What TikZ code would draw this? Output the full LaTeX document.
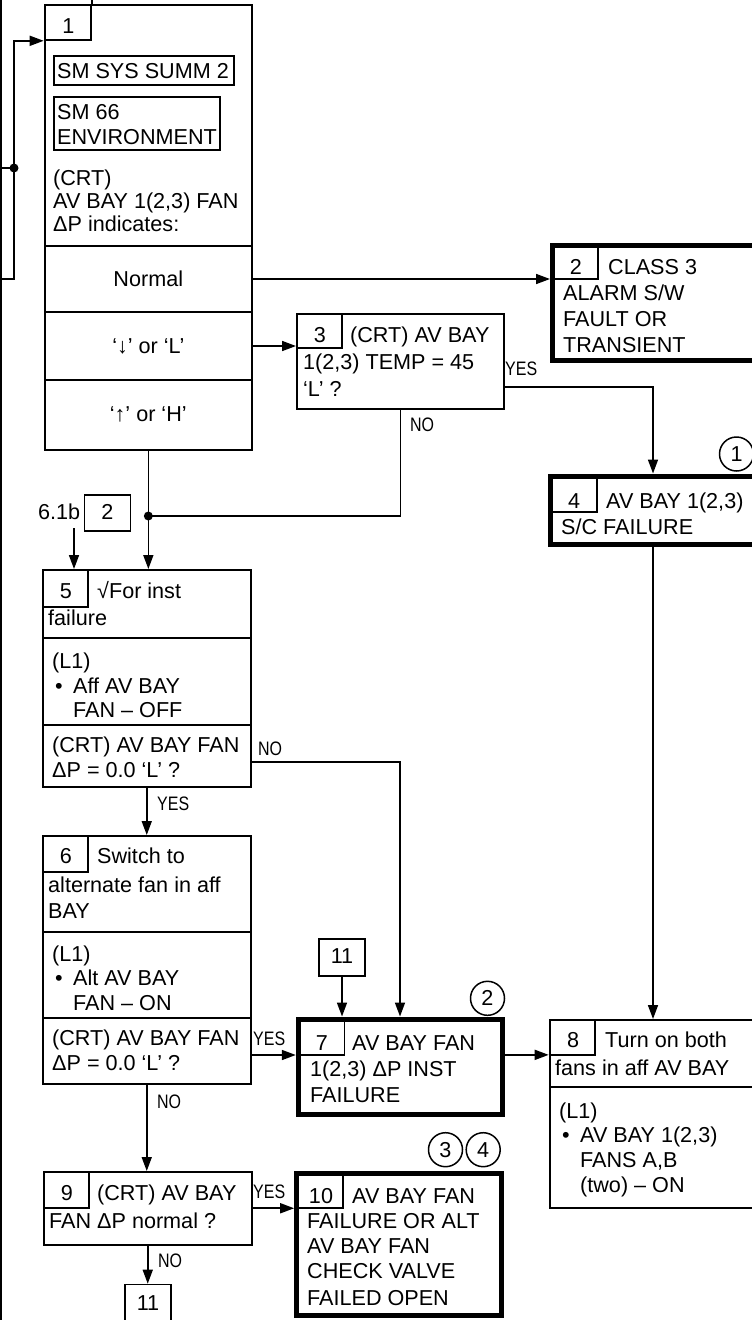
\documentclass[tikz,border=0pt]{standalone}
\usepackage{fontspec}
\setmainfont{Liberation Sans}
\newfontfamily\narrowfont[FakeStretch=0.82]{Liberation Sans}
\usetikzlibrary{arrows.meta}
\newcommand\bx[6]{\node[#2, minimum width={(#5)-(#3)}, minimum height={(#6)-(#4)}] (#1) at ({((#3)+(#5))/2},{((#4)+(#6))/2}) {};}
\newcommand\tx[4]{\node[txt] (#1) at (#2,#3) {#4};}
\newcommand\nm[4]{\node[ctxt] (#1) at (#2,#3) {#4};}
\begin{document}
\begin{tikzpicture}[x=1pt,y=-1pt,
 font=\fontsize{21.6}{25}\selectfont,
 thinbox/.style={draw, line width=2pt, inner sep=0pt},
 thickbox/.style={draw, line width=5pt, inner sep=0pt},
 tabbox/.style={draw, line width=1.6pt, inner sep=0pt},
 txt/.style={anchor=base west, inner sep=0pt},
 ctxt/.style={anchor=base, inner sep=0pt},
 lbl/.style={anchor=base west, inner sep=0pt, font=\narrowfont\fontsize{19.5}{22}\selectfont},
 ln/.style={line width=1.6pt},
 conn/.style={line width=1.6pt, -{Triangle[length=14pt,width=10pt]}},
 dot/.style={circle, fill, inner sep=0pt, minimum size=9pt},
 ring/.style={circle, draw, line width=1.5pt, inner sep=0pt, minimum size=34pt},
]
\fill[white] (0,0) rectangle (752,1320);
\useasboundingbox (0,0) rectangle (752,1320);

% ---------- box 1
\bx{b1}{thinbox}{44.7}{5.3}{252}{450}
\bx{rN}{thinbox}{44.7}{246}{252}{312}
\bx{rL}{thinbox}{44.7}{312}{252}{380}
\bx{rH}{thinbox}{44.7}{380}{252}{450}
\bx{t1}{tabbox}{44.7}{5.3}{91}{40}
\draw[ln] (t1.north east) -- (t1.north east |- 0,0);
\nm{n1}{68.5}{33}{1}
\bx{s1}{thinbox}{54}{56}{234}{85}
\bx{s2}{thinbox}{54}{97}{220}{150}
\tx{a1}{57}{78}{SM SYS SUMM 2}
\tx{a2}{57}{119.5}{SM 66}
\tx{a3}{57}{144}{ENVIRONMENT}
\tx{a4}{53}{185}{(CRT)}
\tx{a5}{53}{208}{AV BAY 1(2,3) FAN}
\tx{a6}{53}{231}{ΔP indicates:}
\nm{a7}{148.3}{286}{Normal}
\nm{a8}{148.3}{353}{‘↓’ or ‘L’}
\nm{a9}{148.3}{421}{‘↑’ or ‘H’}

% ---------- left loop
\coordinate (top) at (1,0);
\coordinate (bot) at (1,1320);
\coordinate (e1) at (1,168);
\coordinate (e2) at (1,279);
\coordinate (k2) at (14,279);
\node[dot] (j1) at (14,168) {};
\draw[ln] (top) -- (bot);
\draw[ln] (e1) -- (j1.center);
\draw[conn] (e2) -- (k2) |- (b1.west |- t1.south);

% ---------- box 2
\bx{b2}{thickbox}{552.5}{245}{775}{360.5}
\bx{t2}{tabbox}{552.5}{245}{598}{279}
\nm{n2}{576}{274}{2}
\tx{b2a}{608}{274}{CLASS 3}
\tx{b2b}{563}{300}{ALARM S/W}
\tx{b2c}{563}{326}{FAULT OR}
\tx{b2d}{563}{352}{TRANSIENT}

% ---------- box 3
\bx{b3}{thinbox}{297}{314}{504}{408.5}
\bx{t3}{tabbox}{297}{314}{342}{348}
\nm{n3}{320}{342}{3}
\tx{b3a}{350}{342}{(CRT) AV BAY}
\tx{b3b}{303}{369}{1(2,3) TEMP = 45}
\tx{b3c}{303}{396}{‘L’ ?}

% ---------- box 4
\bx{b4}{thickbox}{550}{476}{775}{544}
\bx{t4}{tabbox}{550}{476}{597}{512}
\nm{n4}{574}{508}{4}
\tx{b4a}{606}{508}{AV BAY 1(2,3)}
\tx{b4b}{561}{534}{S/C FAILURE}
\node[ring] (c1) at (736.5,454) {1};

% ---------- ref 2
\bx{r2}{tabbox}{84.3}{495}{130.3}{531}
\nm{n2r}{107.3}{519}{2}
\tx{r2t}{38}{519}{6.1b}
\coordinate (c61) at (74,528);

% ---------- box 5
\bx{b5top}{thinbox}{43}{570}{250.5}{638}
\bx{b5mid}{thinbox}{43}{638}{250.5}{725}
\bx{b5q}{thinbox}{43}{725}{250.5}{786.5}
\bx{t5}{tabbox}{43}{570}{88}{607}
\nm{n5}{66}{598}{5}
\tx{b5a}{97}{598}{√For inst}
\tx{b5b}{48}{625}{failure}
\tx{b5c}{52}{668}{(L1)}
\tx{b5d}{55}{693}{•}
\tx{b5e}{73}{693}{Aff AV BAY}
\tx{b5f}{73}{717}{FAN – OFF}
\tx{b5g}{52}{752}{(CRT) AV BAY FAN}
\tx{b5h}{52}{777}{ΔP = 0.0 ‘L’ ?}

% ---------- box 6
\bx{b6top}{thinbox}{43}{836}{250.5}{931.5}
\bx{b6mid}{thinbox}{43}{931.5}{250.5}{1018}
\bx{b6q}{thinbox}{43}{1018}{250.5}{1084}
\bx{t6}{tabbox}{43}{836}{88}{872}
\nm{n6}{66}{863}{6}
\tx{b6a}{97}{863}{Switch to}
\tx{b6b}{48}{892}{alternate fan in aff}
\tx{b6c}{48}{918}{BAY}
\tx{b6d}{52}{961}{(L1)}
\tx{b6e}{55}{985}{•}
\tx{b6f}{73}{985}{Alt AV BAY}
\tx{b6g}{73}{1010}{FAN – ON}
\tx{b6h}{52}{1045}{(CRT) AV BAY FAN}
\tx{b6i}{52}{1070}{ΔP = 0.0 ‘L’ ?}

% ---------- box 9
\bx{b9}{thinbox}{44}{1172}{251.5}{1244.5}
\bx{t9}{tabbox}{44}{1172}{89}{1208}
\nm{n9}{67}{1200}{9}
\tx{b9a}{97}{1200}{(CRT) AV BAY}
\tx{b9b}{49}{1228}{FAN ΔP normal ?}
\bx{n11b}{tabbox}{125}{1284.5}{171}{1335}
\nm{n11bt}{148}{1310}{11}

% ---------- box 7
\bx{n11a}{tabbox}{319}{939}{365}{975.7}
\nm{n11at}{342}{963}{11}
\bx{b7}{thickbox}{298.3}{1019}{502.7}{1114.7}
\bx{t7}{tabbox}{298.3}{1019}{344.3}{1055}
\nm{n7}{322}{1050}{7}
\tx{b7a}{352}{1050}{AV BAY FAN}
\tx{b7b}{310}{1076}{1(2,3) ΔP INST}
\tx{b7c}{310}{1102}{FAILURE}
\node[ring] (c2) at (487.5,998.3) {2};

% ---------- box 8
\bx{b8top}{thinbox}{549.7}{1020}{775}{1087}
\bx{b8bot}{thinbox}{549.7}{1087}{775}{1208}
\bx{t8}{tabbox}{549.7}{1020}{595}{1055}
\nm{n8}{573}{1047}{8}
\tx{b8a}{605}{1047}{Turn on both}
\tx{b8b}{555}{1075}{fans in aff AV BAY}
\tx{b8c}{559}{1118}{(L1)}
\tx{b8d}{562}{1142}{•}
\tx{b8e}{580}{1142}{AV BAY 1(2,3)}
\tx{b8f}{580}{1167}{FANS A,B}
\tx{b8g}{580}{1192}{(two) – ON}

% ---------- box 10
\bx{b10}{thickbox}{296.7}{1173}{501}{1315.5}
\bx{t10}{tabbox}{296.7}{1173}{342.7}{1208}
\nm{n10}{321}{1203}{10}
\tx{b10a}{352}{1203}{AV BAY FAN}
\tx{b10b}{307}{1228}{FAILURE OR ALT}
\tx{b10c}{307}{1253}{AV BAY FAN}
\tx{b10d}{307}{1278}{CHECK VALVE}
\tx{b10e}{307}{1305}{FAILED OPEN}
\node[ring] (c3) at (445.5,1149.7) {3};
\node[ring] (c4) at (483.2,1149.7) {4};

% ---------- labels
\node[lbl] (y3) at (505,375) {YES};
\node[lbl] (no3) at (410,431) {NO};
\node[lbl] (no5) at (258,755) {NO};
\node[lbl] (y5) at (157,810) {YES};
\node[lbl] (y6) at (253,1045) {YES};
\node[lbl] (no6) at (157,1108) {NO};
\node[lbl] (y9) at (253,1198) {YES};
\node[lbl] (no9) at (158,1267) {NO};

% ---------- connectors
\coordinate (x653) at (653,0);
\coordinate (x400) at (400,0);
\node[dot] (j2) at (148.35,516) {};
\draw[conn] (rN.east) -- (rN.east -| b2.west);
\draw[conn] (rL.east) -- (rL.east -| b3.west);
\draw[conn] ([yshift=22.5pt]b3.south east) -| (b4.north -| x653);
\draw[ln] (b3.south) |- (j2.center);
\draw[conn] (rH.south) -- (rH.south |- b5top.north);
\draw[conn] (c61) -- (c61 |- b5top.north);
\draw[conn] ([yshift=-6pt]b5q.east) -| (b7.north -| x400);
\draw[conn] (b5q.south) -- (b5q.south |- b6top.north);
\draw[conn] ([yshift=-4pt]b6q.east) -- ([yshift=-4pt]b6q.east -| b7.west);
\draw[conn] (b6q.south) -- (b6q.south |- b9.north);
\draw[conn] (b9.east) -- (b9.east -| b10.west);
\draw[conn] (b9.south) -- (b9.south |- n11b.north);
\draw[conn] (n11a.south) -- (n11a.south |- b7.north);
\draw[conn] ([yshift=12pt]b7.east) -- ([yshift=12pt]b7.east -| b8top.west);
\draw[conn] (b4.south -| x653) -- (b8top.north -| x653);
\end{tikzpicture}
\end{document}
